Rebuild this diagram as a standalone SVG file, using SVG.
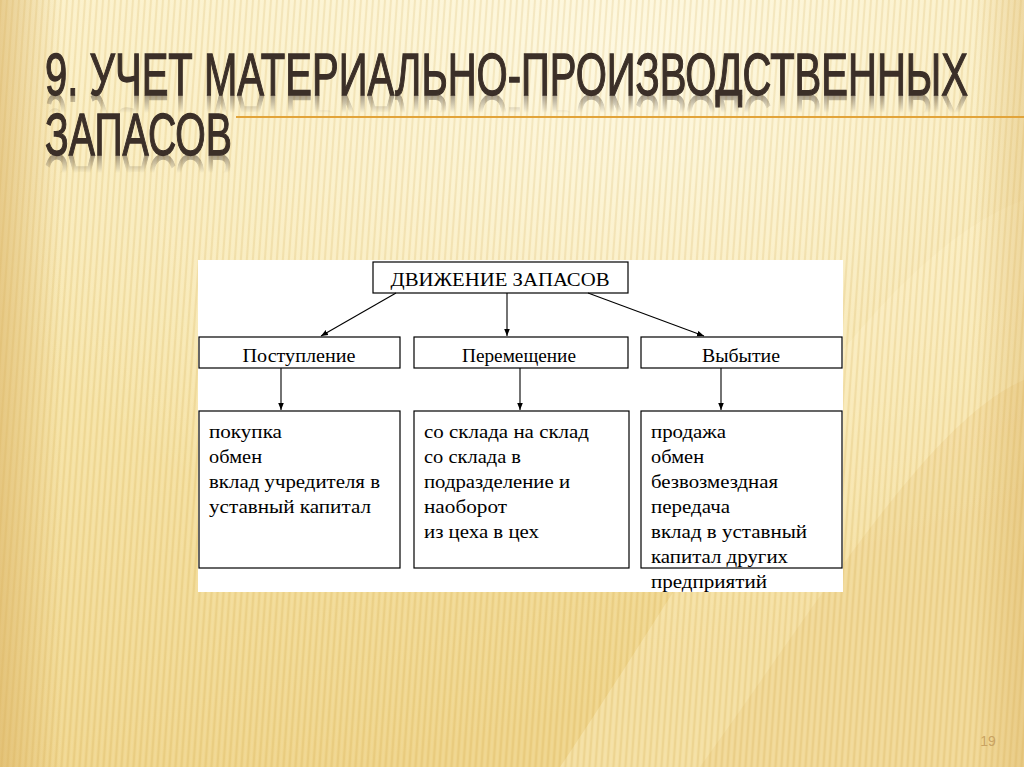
<svg xmlns="http://www.w3.org/2000/svg" xmlns:xlink="http://www.w3.org/1999/xlink" width="1024" height="767" viewBox="0 0 1024 767">
  <defs>
    <linearGradient id="bg" x1="0" y1="0" x2="0.35" y2="1">
      <stop offset="0" stop-color="#fbefc4"/>
      <stop offset="0.5" stop-color="#f6e3a6"/>
      <stop offset="1" stop-color="#efd48a"/>
    </linearGradient>
    <radialGradient id="glow" cx="0.62" cy="0.08" r="0.7">
      <stop offset="0" stop-color="#fffbe8" stop-opacity="0.85"/>
      <stop offset="1" stop-color="#fffbe8" stop-opacity="0"/>
    </radialGradient>
    <linearGradient id="edge" x1="0" y1="0" x2="1" y2="0">
      <stop offset="0" stop-color="#d9b060" stop-opacity="0.55"/>
      <stop offset="0.06" stop-color="#d9b060" stop-opacity="0"/>
      <stop offset="0.95" stop-color="#d9b060" stop-opacity="0"/>
      <stop offset="1" stop-color="#d9b060" stop-opacity="0.35"/>
    </linearGradient>
    <pattern id="stripes" width="6" height="10" patternUnits="userSpaceOnUse" patternTransform="skewX(-4)">
      <rect x="0" y="0" width="2" height="10" fill="#c89a40" opacity="0.16"/>
      <rect x="3.5" y="0" width="1" height="10" fill="#ffffff" opacity="0.14"/>
    </pattern>
    <linearGradient id="fade" x1="0" y1="0" x2="0" y2="1">
      <stop offset="0" stop-color="#fff" stop-opacity="0.45"/>
      <stop offset="0.6" stop-color="#fff" stop-opacity="0"/>
    </linearGradient>
    <mask id="m1" maskUnits="userSpaceOnUse" x="0" y="95" width="1024" height="45">
      <rect x="0" y="95" width="1024" height="30" fill="url(#fade)"/>
    </mask>
    <mask id="m2" maskUnits="userSpaceOnUse" x="0" y="155" width="1024" height="45">
      <rect x="0" y="155" width="1024" height="30" fill="url(#fade)"/>
    </mask>
    <marker id="arr" viewBox="0 0 10 10" refX="10" refY="5" markerWidth="7" markerHeight="7" orient="auto" markerUnits="userSpaceOnUse">
      <path d="M0,1 L10,5 L0,9 z" fill="#000"/>
    </marker>
    <style>
      .title { font-family: "Liberation Sans", Arial, sans-serif; font-size: 60px; fill: #3b2f28; stroke: #3b2f28; stroke-width: 1.3; }
      .box { fill: #ffffff; stroke: #000000; stroke-width: 1.2; }
      .t { font-family: "Liberation Serif", "Times New Roman", serif; font-size: 19px; fill: #000; }
      .h { font-family: "Liberation Serif", "Times New Roman", serif; font-size: 18px; fill: #000; text-anchor: middle; }
      .conn { stroke: #000; stroke-width: 1.1; fill: none; marker-end: url(#arr); }
    </style>
  </defs>

  <!-- background -->
  <rect x="0" y="0" width="1024" height="767" fill="url(#bg)"/>
  <rect x="0" y="0" width="1024" height="767" fill="url(#glow)"/>
  <path d="M560,767 C700,560 860,260 1024,200 L1024,767 Z" fill="#fff3cc" opacity="0.35"/>
  <path d="M700,767 C820,600 930,420 1024,380 L1024,767 Z" fill="#e6c577" opacity="0.25"/>
  <rect x="0" y="0" width="1024" height="767" fill="url(#stripes)"/>
  <rect x="0" y="0" width="1024" height="767" fill="url(#edge)"/>

  <!-- title -->
  <g id="title">
    <text id="tl1" class="title" x="45" y="95" textLength="923" lengthAdjust="spacingAndGlyphs">9. УЧЕТ МАТЕРИАЛЬНО-ПРОИЗВОДСТВЕННЫХ</text>
    <g mask="url(#m1)">
      <use xlink:href="#tl1" href="#tl1" transform="translate(0,190) scale(1,-1)"/>
    </g>
    <text id="tl2" class="title" x="45" y="155" textLength="187" lengthAdjust="spacingAndGlyphs">ЗАПАСОВ</text>
    <g mask="url(#m2)">
      <use xlink:href="#tl2" href="#tl2" transform="translate(0,310) scale(1,-1)"/>
    </g>
    <line x1="236" y1="117" x2="1024" y2="117" stroke="#e2a43a" stroke-width="2.2"/>
  </g>

  <!-- white panel -->
  <rect id="panel" x="198" y="260" width="645" height="332" fill="#ffffff"/>

  <g id="n-top">
    <rect class="box" x="373" y="262" width="255" height="31"/>
    <text class="h" x="500" y="286" textLength="219" lengthAdjust="spacingAndGlyphs">ДВИЖЕНИЕ ЗАПАСОВ</text>
  </g>

  <g id="n-in">
    <rect class="box" x="199" y="337" width="201" height="31"/>
    <text class="h" x="299" y="362" textLength="113" lengthAdjust="spacingAndGlyphs">Поступление</text>
  </g>
  <g id="n-move">
    <rect class="box" x="414" y="337" width="214" height="31"/>
    <text class="h" x="519" y="362" textLength="114" lengthAdjust="spacingAndGlyphs">Перемещение</text>
  </g>
  <g id="n-out">
    <rect class="box" x="641" y="337" width="201" height="31"/>
    <text class="h" x="741" y="362" textLength="78" lengthAdjust="spacingAndGlyphs">Выбытие</text>
  </g>

  <g id="n-in-list">
    <rect class="box" x="199" y="411" width="201" height="157"/>
    <text class="t" x="209" y="438" textLength="73" lengthAdjust="spacingAndGlyphs">покупка</text>
    <text class="t" x="209" y="463" textLength="53" lengthAdjust="spacingAndGlyphs">обмен</text>
    <text class="t" x="209" y="488" textLength="171" lengthAdjust="spacingAndGlyphs">вклад учредителя в</text>
    <text class="t" x="209" y="513" textLength="162" lengthAdjust="spacingAndGlyphs">уставный капитал</text>
  </g>
  <g id="n-move-list">
    <rect class="box" x="414" y="411" width="215" height="157"/>
    <text class="t" x="424" y="438" textLength="165" lengthAdjust="spacingAndGlyphs">со склада на склад</text>
    <text class="t" x="424" y="463" textLength="97" lengthAdjust="spacingAndGlyphs">со склада в</text>
    <text class="t" x="424" y="488" textLength="146" lengthAdjust="spacingAndGlyphs">подразделение и</text>
    <text class="t" x="424" y="513" textLength="83" lengthAdjust="spacingAndGlyphs">наоборот</text>
    <text class="t" x="424" y="538" textLength="115" lengthAdjust="spacingAndGlyphs">из цеха в цех</text>
  </g>
  <g id="n-out-list">
    <rect class="box" x="641" y="411" width="201" height="157"/>
    <text class="t" x="651" y="438" textLength="75" lengthAdjust="spacingAndGlyphs">продажа</text>
    <text class="t" x="651" y="463" textLength="53" lengthAdjust="spacingAndGlyphs">обмен</text>
    <text class="t" x="651" y="488" textLength="127" lengthAdjust="spacingAndGlyphs">безвозмездная</text>
    <text class="t" x="651" y="513" textLength="79" lengthAdjust="spacingAndGlyphs">передача</text>
    <text class="t" x="651" y="538" textLength="156" lengthAdjust="spacingAndGlyphs">вклад в уставный</text>
    <text class="t" x="651" y="563" textLength="137" lengthAdjust="spacingAndGlyphs">капитал других</text>
    <text class="t" x="651" y="588" textLength="116" lengthAdjust="spacingAndGlyphs">предприятий</text>
  </g>

  <g id="connectors">
    <line class="conn" x1="396" y1="293" x2="321" y2="336"/>
    <line class="conn" x1="507" y1="293" x2="507" y2="336"/>
    <line class="conn" x1="588" y1="293" x2="704" y2="336"/>
    <line class="conn" x1="281" y1="368" x2="281" y2="410"/>
    <line class="conn" x1="520" y1="368" x2="520" y2="410"/>
    <line class="conn" x1="721" y1="368" x2="721" y2="410"/>
  </g>

  <text id="page" x="988" y="746" font-family="Liberation Sans, Arial, sans-serif" font-size="14" fill="#c9a362" text-anchor="middle">19</text>
</svg>
